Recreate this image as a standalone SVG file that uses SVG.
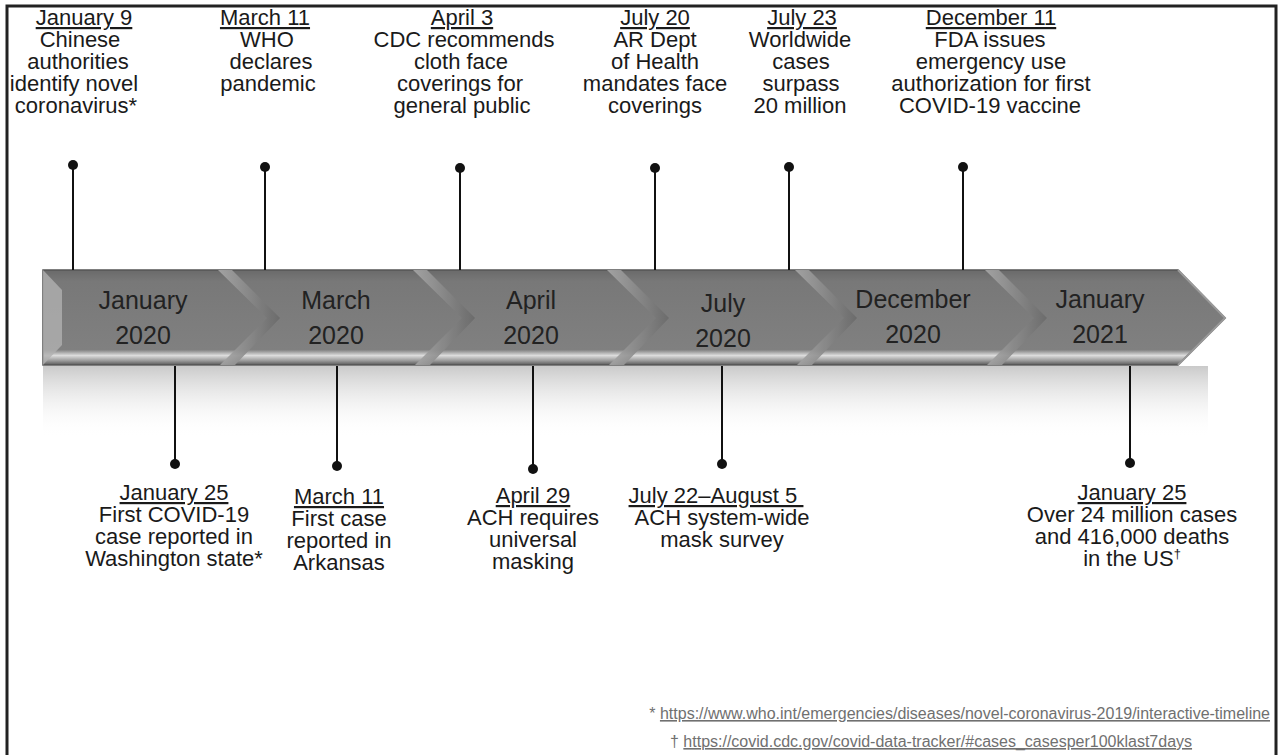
<svg xmlns="http://www.w3.org/2000/svg" width="1278" height="755" viewBox="0 0 1278 755">
<defs>
<style>
.lbl{font-family:"Liberation Sans",Arial,sans-serif;font-size:22px;fill:#1a1a1a;text-anchor:middle}
.u{text-decoration:underline}
.mon{font-family:"Liberation Sans",Arial,sans-serif;font-size:25px;fill:#222;text-anchor:middle}
.fn{font-family:"Liberation Sans",Arial,sans-serif;font-size:16px;fill:#707070}
.ln{stroke:#111;stroke-width:2;fill:none}
.dot{fill:#111}
</style>
<linearGradient id="band" x1="0" y1="0" x2="0" y2="1">
<stop offset="0" stop-color="#6a6a6a"/>
<stop offset="0.12" stop-color="#787878"/>
<stop offset="0.84" stop-color="#808080"/>
<stop offset="0.9" stop-color="#dcdcdc"/>
<stop offset="0.95" stop-color="#a0a0a0"/>
<stop offset="1" stop-color="#5a5a5a"/>
</linearGradient>
<linearGradient id="refl" x1="0" y1="0" x2="0" y2="1">
<stop offset="0" stop-color="#b8b8b8" stop-opacity="0.75"/>
<stop offset="1" stop-color="#ffffff" stop-opacity="0"/>
</linearGradient>
<linearGradient id="chev" x1="0" y1="0" x2="1" y2="0">
<stop offset="0" stop-color="#a8a8a8"/>
<stop offset="1" stop-color="#6a6a6a"/>
</linearGradient>
</defs>
<rect x="7" y="6" width="1269" height="760" fill="#fff" stroke="#222" stroke-width="3"/>

<g id="band">
<rect x="43" y="366" width="1165" height="72" fill="url(#refl)"/>
<path d="M43 270 H1178 L1225 318 L1178 365 H43 Z" fill="url(#band)" stroke="#555" stroke-width="1.5"/>
<path d="M43 270 L62 290 V345 L43 365 Z" fill="#b0b0b0" opacity="0.8"/>
<g fill="url(#chev)" opacity="0.9">
<path d="M218 270 L267 318 L220 365 L235 365 L280 318 L232 270 Z"/>
<path d="M413 270 L462 318 L415 365 L430 365 L475 318 L427 270 Z"/>
<path d="M607 270 L656 318 L609 365 L624 365 L669 318 L621 270 Z"/>
<path d="M795 270 L844 318 L797 365 L812 365 L857 318 L809 270 Z"/>
<path d="M985 270 L1034 318 L987 365 L1002 365 L1047 318 L999 270 Z"/>
</g>
<path d="M1178 270 L1225 318 L1178 365" fill="none" stroke="#9a9a9a" stroke-width="2"/>
</g>

<g id="month-jan2020"><text class="mon" x="143" y="309">January</text><text class="mon" x="143" y="344">2020</text></g>
<g id="month-mar2020"><text class="mon" x="336" y="309">March</text><text class="mon" x="336" y="344">2020</text></g>
<g id="month-apr2020"><text class="mon" x="531" y="309">April</text><text class="mon" x="531" y="344">2020</text></g>
<g id="month-jul2020"><text class="mon" x="723" y="312">July</text><text class="mon" x="723" y="347">2020</text></g>
<g id="month-dec2020"><text class="mon" x="913" y="308">December</text><text class="mon" x="913" y="343">2020</text></g>
<g id="month-jan2021"><text class="mon" x="1100" y="308">January</text><text class="mon" x="1100" y="343">2021</text></g>

<g id="connectors">
<line class="ln" x1="73" y1="165" x2="73" y2="270"/><circle class="dot" cx="73" cy="165" r="5"/>
<line class="ln" x1="265" y1="167" x2="265" y2="270"/><circle class="dot" cx="265" cy="167" r="5"/>
<line class="ln" x1="460" y1="168" x2="460" y2="270"/><circle class="dot" cx="460" cy="168" r="5"/>
<line class="ln" x1="655" y1="168" x2="655" y2="270"/><circle class="dot" cx="655" cy="168" r="5"/>
<line class="ln" x1="789" y1="167" x2="789" y2="270"/><circle class="dot" cx="789" cy="167" r="5"/>
<line class="ln" x1="963" y1="167" x2="963" y2="270"/><circle class="dot" cx="963" cy="167" r="5"/>
<line class="ln" x1="175" y1="366" x2="175" y2="464"/><circle class="dot" cx="175" cy="464" r="5"/>
<line class="ln" x1="337" y1="366" x2="337" y2="466"/><circle class="dot" cx="337" cy="466" r="5"/>
<line class="ln" x1="533" y1="366" x2="533" y2="469"/><circle class="dot" cx="533" cy="469" r="5"/>
<line class="ln" x1="722" y1="366" x2="722" y2="464"/><circle class="dot" cx="722" cy="464" r="5"/>
<line class="ln" x1="1130" y1="366" x2="1130" y2="463"/><circle class="dot" cx="1130" cy="463" r="5"/>
</g>

<g id="ev-jan9"><text class="lbl"><tspan class="u" x="84" y="25">January 9</tspan><tspan x="80" y="47">Chinese</tspan><tspan x="78" y="69">authorities</tspan><tspan x="74" y="91">identify novel</tspan><tspan x="76" y="113">coronavirus*</tspan></text></g>
<g id="ev-mar11"><text class="lbl"><tspan class="u" x="265" y="25">March 11</tspan><tspan x="267" y="47">WHO</tspan><tspan x="271" y="69">declares</tspan><tspan x="268" y="91">pandemic</tspan></text></g>
<g id="ev-apr3"><text class="lbl"><tspan class="u" x="462" y="25">April 3</tspan><tspan x="464" y="47">CDC recommends</tspan><tspan x="461" y="69">cloth face</tspan><tspan x="460" y="91">coverings for</tspan><tspan x="462" y="113">general public</tspan></text></g>
<g id="ev-jul20"><text class="lbl"><tspan class="u" x="655" y="25">July 20</tspan><tspan x="655" y="47">AR Dept</tspan><tspan x="655" y="69">of Health</tspan><tspan x="655" y="91">mandates face</tspan><tspan x="655" y="113">coverings</tspan></text></g>
<g id="ev-jul23"><text class="lbl"><tspan class="u" x="802" y="25">July 23</tspan><tspan x="800" y="47">Worldwide</tspan><tspan x="801" y="69">cases</tspan><tspan x="801" y="91">surpass</tspan><tspan x="800" y="113">20 million</tspan></text></g>
<g id="ev-dec11"><text class="lbl"><tspan class="u" x="991" y="25">December 11</tspan><tspan x="990" y="47">FDA issues</tspan><tspan x="991" y="69">emergency use</tspan><tspan x="991" y="91">authorization for first</tspan><tspan x="990" y="113">COVID-19 vaccine</tspan></text></g>

<g id="ev-jan25"><text class="lbl"><tspan class="u" x="174" y="500">January 25</tspan><tspan x="174" y="522">First COVID-19</tspan><tspan x="174" y="544">case reported in</tspan><tspan x="174" y="566">Washington state*</tspan></text></g>
<g id="ev-mar11b"><text class="lbl"><tspan class="u" x="339" y="504">March 11</tspan><tspan x="339" y="526">First case</tspan><tspan x="339" y="548">reported in</tspan><tspan x="339" y="570">Arkansas</tspan></text></g>
<g id="ev-apr29"><text class="lbl"><tspan class="u" x="533" y="503">April 29</tspan><tspan x="533" y="525">ACH requires</tspan><tspan x="533" y="547">universal</tspan><tspan x="533" y="569">masking</tspan></text></g>
<g id="ev-jul22"><text class="lbl"><tspan class="u" x="716" y="503">July 22–August 5 </tspan><tspan x="722" y="525">ACH system-wide</tspan><tspan x="722" y="547">mask survey</tspan></text></g>
<g id="ev-jan25b"><text class="lbl"><tspan class="u" x="1132" y="500">January 25</tspan><tspan x="1132" y="522">Over 24 million cases</tspan><tspan x="1132" y="544">and 416,000 deaths</tspan><tspan x="1132" y="566">in the US<tspan font-size="13" dy="-8">†</tspan></tspan></text></g>

<g id="footnotes">
<text class="fn" x="1270" y="719" text-anchor="end">* <tspan class="u">https://www.who.int/emergencies/diseases/novel-coronavirus-2019/interactive-timeline</tspan></text>
<text class="fn" x="670" y="747">†  <tspan class="u">https://covid.cdc.gov/covid-data-tracker/#cases_casesper100klast7days </tspan></text>
</g>
</svg>
